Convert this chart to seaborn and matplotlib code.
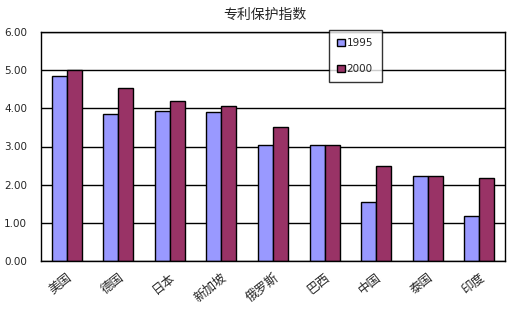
import matplotlib
matplotlib.use("Agg")
import matplotlib.pyplot as plt
import matplotlib.transforms as mtransforms
import seaborn as sns
import pandas as pd
import numpy as np

countries = ["美国", "德国", "日本", "新加坡", "俄罗斯", "巴西", "中国", "泰国", "印度"]
years = ["1995", "2000"]
v1995 = [4.85, 3.85, 3.93, 3.90, 3.04, 3.04, 1.55, 2.23, 1.17]
v2000 = [5.00, 4.53, 4.19, 4.06, 3.51, 3.04, 2.49, 2.23, 2.17]
yticks = [0, 1, 2, 3, 4, 5, 6]

df = pd.DataFrame({
    "country": countries * 2,
    "year": [years[0]] * len(countries) + [years[1]] * len(countries),
    "value": v1995 + v2000,
})

sns.set_style("white")
plt.rcParams['font.family'] = ['Noto Sans CJK SC', 'DejaVu Sans']

fig = plt.figure(figsize=(5.2, 3.3), dpi=100)
ax = fig.add_axes([41/520, 1-261/330, 464/520, 229/330])

sns.barplot(data=df, x="country", y="value", hue="year", order=countries,
            hue_order=years, palette=["#9999FF", "#993366"], width=0.58,
            gap=0, edgecolor="black", linewidth=1.0, saturation=1, ax=ax,
            legend=True)

ax.set_ylim(0, 6)
ax.set_xlim(-0.5, len(countries) - 0.5)
ax.set_yticks(yticks)
ax.set_yticklabels([f"{t:.2f}" for t in yticks], fontsize=7.5, fontfamily="DejaVu Sans")
ax.yaxis.grid(True, color="black", linewidth=1.0)
ax.set_axisbelow(True)
ax.set_xlabel("")
ax.set_ylabel("")
for s in ax.spines.values():
    s.set_color("black")
    s.set_linewidth(1.0)
ax.set_xticks(range(len(countries)))
ax.set_xticklabels(countries, rotation=38, fontsize=9, ha="right", rotation_mode="anchor")
offset = mtransforms.ScaledTranslation(11/100, 0, fig.dpi_scale_trans)
for lab in ax.get_xticklabels():
    lab.set_transform(lab.get_transform() + offset)
ax.tick_params(axis="x", which="major", length=0, pad=7)
ax.set_xticks(np.arange(0.5, len(countries) - 0.5, 1), minor=True)
ax.tick_params(axis="x", which="minor", length=3, direction="in", color="black", width=1)
ax.tick_params(axis="y", length=0, pad=10)

fig.text(265/520, 1-15/330, "专利保护指数", ha="center", va="center", fontsize=10)

leg = ax.legend(loc="upper left", bbox_to_anchor=(329/520, 1-30/330),
                bbox_transform=fig.transFigure, frameon=True, fancybox=False,
                fontsize=7.5, handlelength=0.7, handleheight=0.7, handletextpad=0.2,
                labelspacing=1.5, borderpad=0.8, borderaxespad=0, title=None)
leg.get_frame().set_edgecolor("black")
leg.get_frame().set_linewidth(1.0)
for t in leg.get_texts():
    t.set_fontfamily("DejaVu Sans")

fig.savefig("out.png", dpi=100)
